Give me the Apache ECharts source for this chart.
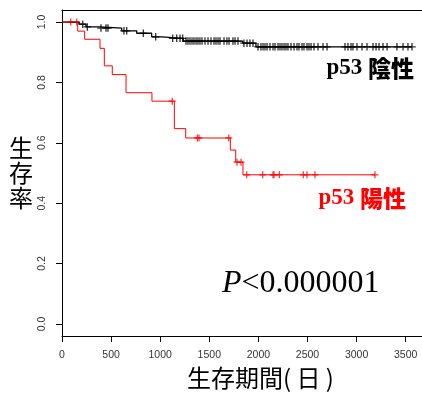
<!DOCTYPE html>
<html>
<head>
<meta charset="utf-8">
<script src="https://cdn.jsdelivr.net/npm/echarts@6/dist/echarts.min.js"></script>
<style>
  html, body { margin: 0; padding: 0; background: #fff; }
  #main { width: 422px; height: 397px; }
</style>
</head>
<body>
<div id="main"></div>
<script>
// 軸目盛
const timeTicks = [0, 500, 1000, 1500, 2000, 2500, 3000, 3500];
const survTicks = [0, 0.2, 0.4, 0.6, 0.8, 1.0];

// p53 陰性 (黒)
const negEventTimes = [0, 173, 244, 387, 608, 761, 913, 1015, 1235, 1840, 1975];
const negSurv = [1.0, 0.993, 0.984, 0.980, 0.971, 0.963, 0.951, 0.946, 0.937, 0.930, 0.918];
const negEnd = 3565;
const negCensor = [211, 258, 397, 448, 468, 631, 659, 828, 954, 1127, 1168, 1202, 1229,
  1263, 1283, 1303, 1324, 1344, 1365, 1385, 1405, 1426, 1456, 1487, 1517, 1548, 1568, 1589,
  1609, 1650, 1680, 1701, 1741, 1762, 1792, 1853, 1884, 1914, 1945, 1996, 2026, 2047, 2067,
  2088, 2118, 2149, 2169, 2200, 2220, 2240, 2261, 2281, 2301, 2332, 2363, 2393, 2413, 2444,
  2464, 2495, 2515, 2536, 2566, 2607, 2658, 2699, 2882, 2912, 2943, 2963, 3004, 3055, 3106,
  3167, 3198, 3228, 3269, 3310, 3411, 3473, 3523, 3564];

// p53 陽性 (赤)
const posEventTimes = [0, 160, 231, 387, 431, 512, 652, 916, 1144, 1260, 1714, 1769, 1843];
const posSurv = [1.0, 0.970, 0.943, 0.913, 0.855, 0.826, 0.766, 0.738, 0.647, 0.616, 0.576, 0.536, 0.494];
const posEnd = 3190;
const posCensor = [89, 150, 1123, 1378, 1395, 1698, 1782, 1823, 1881, 2044, 2149, 2159, 2213,
  2457, 2495, 2576, 3187];

function survAt(times, surv, t) {
  let s = surv[0];
  for (let i = 0; i < times.length; i++) {
    if (times[i] <= t) s = surv[i];
  }
  return s;
}
function stepData(times, surv, end) {
  const d = times.map((t, i) => [t, surv[i]]);
  d.push([end, surv[surv.length - 1]]);
  return d;
}
function censorData(times, surv, cens) {
  return cens.map(t => [t, survAt(times, surv, t)]);
}

const PLUS = 'path://M3,0H4.3V3H7.3V4.3H4.3V7.3H3V4.3H0V3H3Z';
const CJK = '"Noto Sans CJK JP", "Noto Sans CJK SC", sans-serif';
const SERIF = '"Liberation Serif", "Times New Roman", serif';

var myChart = echarts.init(document.getElementById('main'));
var option = {
  backgroundColor: '#fff',
  animation: false,
  grid: { left: 62, top: 10, right: 0, bottom: 61 },
  xAxis: [{
    type: 'value',
    min: 0,
    max: 3666,
    splitLine: { show: false },
    axisLine: { show: true, onZero: false, lineStyle: { color: '#000', width: 1 } },
    axisTick: { show: true, length: 6, customValues: timeTicks, lineStyle: { color: '#000' } },
    axisLabel: {
      customValues: timeTicks,
      margin: 14,
      color: '#333',
      fontSize: 10.5,
      fontFamily: '"Liberation Sans", Arial, sans-serif',
      formatter: v => String(v)
    }
  }, {
    type: 'value',
    position: 'top',
    min: 0,
    max: 3666,
    splitLine: { show: false },
    axisLine: { show: true, onZero: false, lineStyle: { color: '#000', width: 1 } },
    axisTick: { show: false },
    axisLabel: { show: false }
  }],
  yAxis: {
    type: 'value',
    min: -0.04,
    max: 1.04,
    splitLine: { show: false },
    axisLine: { show: true, onZero: false, lineStyle: { color: '#000', width: 1 } },
    axisTick: { show: true, length: 6, customValues: survTicks, lineStyle: { color: '#000' } },
    axisLabel: {
      customValues: survTicks,
      rotate: 90,
      margin: 14,
      color: '#333',
      fontSize: 10.5,
      fontFamily: '"Liberation Sans", Arial, sans-serif',
      formatter: v => v.toFixed(1)
    }
  },
  series: [{
    type: 'line',
    step: 'end',
    showSymbol: false,
    lineStyle: { color: '#000', width: 1.3 },
    data: stepData(negEventTimes, negSurv, negEnd)
  }, {
    type: 'scatter',
    symbol: PLUS,
    symbolSize: 7.5,
    itemStyle: { color: '#000' },
    data: censorData(negEventTimes, negSurv, negCensor)
  }, {
    type: 'line',
    step: 'end',
    showSymbol: false,
    lineStyle: { color: '#ff0000', width: 1 },
    data: stepData(posEventTimes, posSurv, posEnd)
  }, {
    type: 'scatter',
    symbol: PLUS,
    symbolSize: 7,
    itemStyle: { color: '#ff0000' },
    data: censorData(posEventTimes, posSurv, posCensor)
  }],
  graphic: [{
    type: 'text',
    left: 9,
    top: 135,
    style: {
      text: '生\n存\n率',
      font: '24px ' + CJK,
      lineHeight: 25,
      fill: '#000'
    }
  }, {
    type: 'text',
    left: 187,
    top: 366,
    style: {
      text: '生存期間( 日 )',
      font: '24px ' + CJK,
      fill: '#000'
    }
  }, {
    type: 'text',
    right: 8,
    top: 57,
    style: {
      text: '{a|p53 }{b|陰性}',
      rich: {
        a: { fontFamily: SERIF, fontSize: 23, fontWeight: 'bold', fill: '#000' },
        b: { fontFamily: CJK, fontSize: 23, fontWeight: 900, fill: '#000' }
      }
    }
  }, {
    type: 'text',
    right: 16,
    top: 187,
    style: {
      text: '{a|p53 }{b|陽性}',
      rich: {
        a: { fontFamily: SERIF, fontSize: 23, fontWeight: 'bold', fill: '#ff0000' },
        b: { fontFamily: CJK, fontSize: 23, fontWeight: 900, fill: '#ff0000' }
      }
    }
  }, {
    type: 'text',
    left: 222,
    top: 268,
    style: {
      text: '{i|P}{n|<0.000001}',
      rich: {
        i: { fontFamily: SERIF, fontSize: 32, fontStyle: 'italic', fill: '#000' },
        n: { fontFamily: SERIF, fontSize: 32, fill: '#000' }
      }
    }
  }]
};
myChart.setOption(option);
window.addEventListener('resize', function () {
  myChart.resize();
});
</script>
</body>
</html>
